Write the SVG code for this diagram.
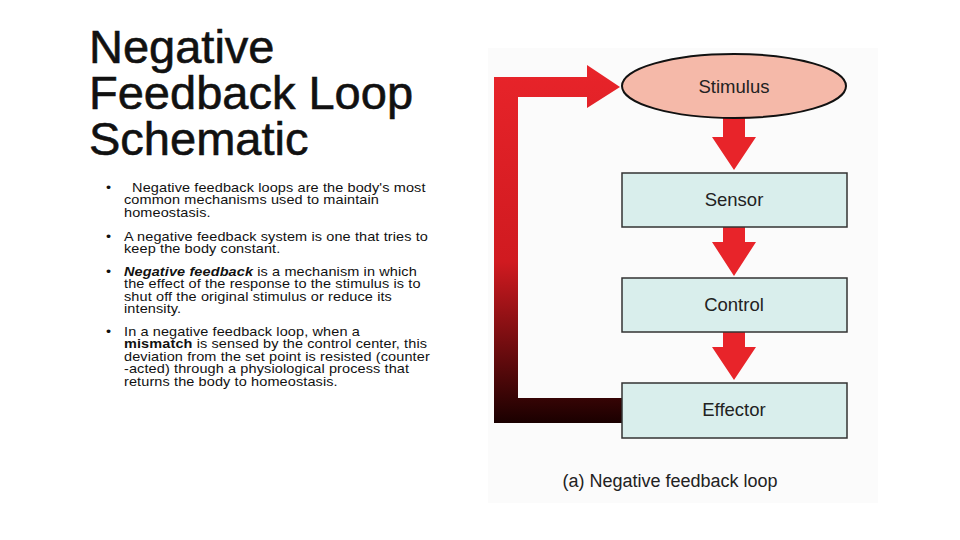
<svg xmlns="http://www.w3.org/2000/svg" width="960" height="540" viewBox="0 0 960 540">
<style>
.t{font-family:"Liberation Sans",Arial,sans-serif;fill:#111}
.title{font-size:47px;stroke:#111;stroke-width:0.6}
.b{font-size:12.5px;letter-spacing:0.1px}
.lbl{font-family:"Liberation Sans",Arial,sans-serif;font-size:18.5px;fill:#222;text-anchor:middle}
.cap{font-size:18px}
.box{fill:#d9eeec;stroke:#333;stroke-width:1.5}
.arr{fill:#e8242a}
</style>
<defs>
<linearGradient id="fb" x1="0" y1="0" x2="0" y2="1" gradientUnits="objectBoundingBox">
<stop offset="0" stop-color="#e8242a"/>
<stop offset="0.55" stop-color="#d01a20"/>
<stop offset="1" stop-color="#1a0000"/>
</linearGradient>
</defs>
<rect width="960" height="540" fill="#fff"/>
<rect x="488" y="48" width="390" height="455" fill="#fbfbfb"/>
<g id="title">
<text class="t title" x="89" y="63">Negative</text>
<text class="t title" x="89" y="109">Feedback Loop</text>
<text class="t title" x="89" y="155">Schematic</text>
</g>
<g id="bullets" class="t b" transform="translate(124,0) scale(1.16,1) translate(-124,0)">
<text x="108.5" y="192">•</text>
<text x="131" y="192">Negative feedback loops are the body's most</text>
<text x="124" y="204.5">common mechanisms used to maintain</text>
<text x="124" y="217">homeostasis.</text>
<text x="108.5" y="241">•</text>
<text x="124" y="241">A negative feedback system is one that tries to</text>
<text x="124" y="253.5">keep the body constant.</text>
<text x="108.5" y="276">•</text>
<text x="124" y="276"><tspan font-weight="bold" font-style="italic">Negative feedback</tspan> is a mechanism in which</text>
<text x="124" y="288.5">the effect of the response to the stimulus is to</text>
<text x="124" y="301">shut off the original stimulus or reduce its</text>
<text x="124" y="313.5">intensity.</text>
<text x="108.5" y="336">•</text>
<text x="124" y="336">In a negative feedback loop, when a</text>
<text x="124" y="348.5"><tspan font-weight="bold">mismatch</tspan> is sensed by the control center, this</text>
<text x="124" y="361">deviation from the set point is resisted (counter</text>
<text x="124" y="373.5">-acted) through a physiological process that</text>
<text x="124" y="386">returns the body to homeostasis.</text>
</g>
<g id="connectors">
<path d="M622,423 L494,423 L494,77 L587,77 L587,65 L620,87 L587,108 L587,97 L518,97 L518,398 L622,398 Z" fill="url(#fb)"/>
<path class="arr" d="M723,118 L745,118 L745,137 L756,137 L734,170 L712,137 L723,137 Z"/>
<path class="arr" d="M723,227 L745,227 L745,242 L756,242 L734,276 L712,242 L723,242 Z"/>
<path class="arr" d="M723,332 L745,332 L745,347 L756,347 L734,380 L712,347 L723,347 Z"/>
</g>
<g id="stimulus">
<ellipse cx="734" cy="86" rx="112" ry="32" fill="#f5b9a9" stroke="#111" stroke-width="2"/>
<text class="lbl" x="734" y="93">Stimulus</text>
</g>
<g id="sensor">
<rect class="box" x="622" y="173" width="225" height="54"/>
<text class="lbl" x="734" y="206">Sensor</text>
</g>
<g id="control">
<rect class="box" x="622" y="278" width="225" height="54"/>
<text class="lbl" x="734" y="311">Control</text>
</g>
<g id="effector">
<rect class="box" x="622" y="383" width="225" height="55"/>
<text class="lbl" x="734" y="416">Effector</text>
</g>
<g id="caption">
<text class="lbl cap" x="670" y="487">(a) Negative feedback loop</text>
</g>
</svg>
